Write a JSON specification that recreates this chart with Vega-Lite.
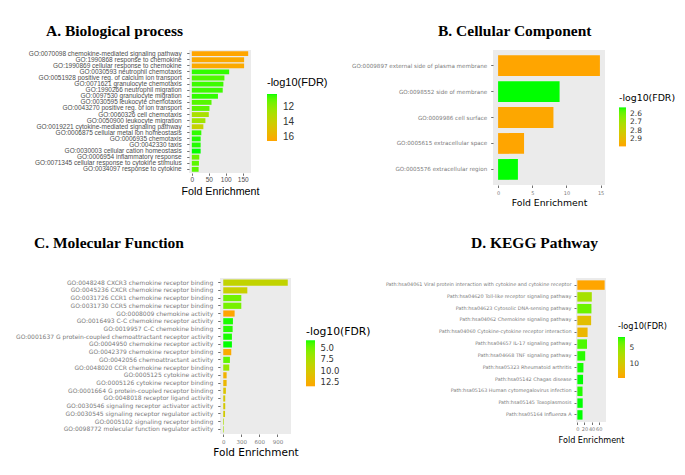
{
  "$schema": "https://vega.github.io/schema/vega-lite/v6.json",
  "background": "white",
  "padding": {"left": 15, "top": 23, "right": 0, "bottom": 0},
  "config": {"view": {"fill": "#ebebeb", "stroke": null}},
  "datasets": {
    "A": [
      {"term": "GO:0070098 chemokine-mediated signaling pathway", "fold": 166, "log10FDR": -16.5},
      {"term": "GO:1990868 response to chemokine", "fold": 154, "log10FDR": -16.3},
      {"term": "GO:1990869 cellular response to chemokine", "fold": 154, "log10FDR": -16.3},
      {"term": "GO:0030593 neutrophil chemotaxis", "fold": 110, "log10FDR": -10.5},
      {"term": "GO:0051928 positive reg. of calcium ion transport", "fold": 96, "log10FDR": -10.8},
      {"term": "GO:0071621 granulocyte chemotaxis", "fold": 93, "log10FDR": -10.6},
      {"term": "GO:1990266 neutrophil migration", "fold": 91, "log10FDR": -10.6},
      {"term": "GO:0097530 granulocyte migration", "fold": 77, "log10FDR": -10.5},
      {"term": "GO:0030595 leukocyte chemotaxis", "fold": 58, "log10FDR": -10.9},
      {"term": "GO:0043270 positive reg. of ion transport", "fold": 52, "log10FDR": -11.0},
      {"term": "GO:0060326 cell chemotaxis", "fold": 50, "log10FDR": -12.8},
      {"term": "GO:0050900 leukocyte migration", "fold": 40, "log10FDR": -12.5},
      {"term": "GO:0019221 cytokine-mediated signaling pathway", "fold": 34, "log10FDR": -13.8},
      {"term": "GO:0006875 cellular metal ion homeostasis", "fold": 28, "log10FDR": -10.5},
      {"term": "GO:0006935 chemotaxis", "fold": 26, "log10FDR": -10.4},
      {"term": "GO:0042330 taxis", "fold": 26, "log10FDR": -10.4},
      {"term": "GO:0030003 cellular cation homeostasis", "fold": 26, "log10FDR": -10.3},
      {"term": "GO:0006954 inflammatory response", "fold": 22, "log10FDR": -11.2},
      {"term": "GO:0071345 cellular response to cytokine stimulus", "fold": 21, "log10FDR": -11.0},
      {"term": "GO:0034097 response to cytokine", "fold": 20, "log10FDR": -11.0}
    ],
    "B": [
      {"term": "GO:0009897 external side of plasma membrane", "fold": 14.9, "log10FDR": -2.99},
      {"term": "GO:0098552 side of membrane", "fold": 9.0, "log10FDR": -2.52},
      {"term": "GO:0009986 cell surface", "fold": 8.1, "log10FDR": -2.98},
      {"term": "GO:0005615 extracellular space", "fold": 3.8, "log10FDR": -2.99},
      {"term": "GO:0005576 extracellular region", "fold": 2.9, "log10FDR": -2.52}
    ],
    "C": [
      {"term": "GO:0048248 CXCR3 chemokine receptor binding", "fold": 1072, "log10FDR": -8.8},
      {"term": "GO:0045236 CXCR chemokine receptor binding", "fold": 400, "log10FDR": -9.2},
      {"term": "GO:0031726 CCR1 chemokine receptor binding", "fold": 300, "log10FDR": -5.0},
      {"term": "GO:0031730 CCR5 chemokine receptor binding", "fold": 300, "log10FDR": -5.2},
      {"term": "GO:0008009 chemokine activity", "fold": 189, "log10FDR": -13.4},
      {"term": "GO:0016493 C-C chemokine receptor activity", "fold": 161, "log10FDR": -3.4},
      {"term": "GO:0019957 C-C chemokine binding", "fold": 156, "log10FDR": -3.5},
      {"term": "GO:0001637 G protein-coupled chemoattractant receptor activity", "fold": 144, "log10FDR": -3.4},
      {"term": "GO:0004950 chemokine receptor activity", "fold": 144, "log10FDR": -3.3},
      {"term": "GO:0042379 chemokine receptor binding", "fold": 133, "log10FDR": -13.0},
      {"term": "GO:0042056 chemoattractant activity", "fold": 111, "log10FDR": -4.5},
      {"term": "GO:0048020 CCR chemokine receptor binding", "fold": 100, "log10FDR": -6.5},
      {"term": "GO:0005125 cytokine activity", "fold": 56, "log10FDR": -12.2},
      {"term": "GO:0005126 cytokine receptor binding", "fold": 56, "log10FDR": -11.8},
      {"term": "GO:0001664 G protein-coupled receptor binding", "fold": 44, "log10FDR": -10.5},
      {"term": "GO:0048018 receptor ligand activity", "fold": 33, "log10FDR": -10.0},
      {"term": "GO:0030546 signaling receptor activator activity", "fold": 33, "log10FDR": -10.0},
      {"term": "GO:0030545 signaling receptor regulator activity", "fold": 30, "log10FDR": -9.8},
      {"term": "GO:0005102 signaling receptor binding", "fold": 11, "log10FDR": -7.5},
      {"term": "GO:0098772 molecular function regulator activity", "fold": 10, "log10FDR": -7.0}
    ],
    "D": [
      {"term": "Path:hsa04061 Viral protein interaction with cytokine and cytokine receptor", "fold": 76.5, "log10FDR": -14.5},
      {"term": "Path:hsa04620 Toll-like receptor signaling pathway", "fold": 40.5, "log10FDR": -6.5},
      {"term": "Path:hsa04623 Cytosolic DNA-sensing pathway", "fold": 39.5, "log10FDR": -3.5},
      {"term": "Path:hsa04062 Chemokine signaling pathway", "fold": 38.6, "log10FDR": -11.5},
      {"term": "Path:hsa04060 Cytokine-cytokine receptor interaction", "fold": 28.7, "log10FDR": -12.5},
      {"term": "Path:hsa04657 IL-17 signaling pathway", "fold": 27, "log10FDR": -2.5},
      {"term": "Path:hsa04668 TNF signaling pathway", "fold": 22, "log10FDR": -1.8},
      {"term": "Path:hsa05323 Rheumatoid arthritis", "fold": 17, "log10FDR": -1.6},
      {"term": "Path:hsa05142 Chagas disease", "fold": 16, "log10FDR": -1.5},
      {"term": "Path:hsa05163 Human cytomegalovirus infection", "fold": 14.5, "log10FDR": -1.7},
      {"term": "Path:hsa05145 Toxoplasmosis", "fold": 15, "log10FDR": -1.5},
      {"term": "Path:hsa05164 Influenza A", "fold": 14.5, "log10FDR": -1.5}
    ]
  },
  "columns": 1,
  "spacing": 27,
  "bounds": "full",
  "resolve": {"scale": {"color": "independent"}, "legend": {"color": "independent"}},
  "concat": [
    {
      "hconcat": [
        {
          "data": {"name": "A"},
          "width": 62,
          "height": 123,
          "title": {"text": "A. Biological process", "anchor": "start", "frame": "group", "dx": -143, "offset": -1, "baseline": "alphabetic", "font": "Liberation Serif", "fontSize": 15.5, "fontWeight": "bold", "color": "black"},
          "mark": {"type": "bar"},
          "encoding": {
            "y": {"field": "term", "type": "nominal", "sort": null, "scale": {"paddingInner": 0.2, "paddingOuter": 0.2},
              "axis": {"title": null, "labelFont": "Liberation Sans", "labelFontSize": 6.5, "labelColor": "#4d4d4d", "labelLimit": 400, "labelPadding": 5.5, "tickSize": 2.3, "tickColor": "#333333", "tickWidth": 0.7, "domain": false, "grid": false}},
            "x": {"field": "fold", "type": "quantitative", "scale": {"domain": [-8.3, 174.3], "nice": false, "zero": false},
              "axis": {"values": [0, 50, 100, 150], "title": "Fold Enrichment", "titleFont": "Liberation Sans", "titleFontSize": 10.7, "titleFontWeight": "normal", "titleColor": "black", "titleBaseline": "alphabetic", "titleY": 21.5, "labelFont": "Liberation Sans", "labelFontSize": 6.5, "labelColor": "#4d4d4d", "labelPadding": 1, "tickSize": 2.3, "tickColor": "#333333", "tickWidth": 0.7, "domain": false, "grid": false}},
            "x2": {"datum": 0},
            "color": {"field": "log10FDR", "type": "quantitative",
              "scale": {"domain": [-16.5, -10.3], "range": ["#ffa500", "#00ff00"], "interpolate": "lab"},
              "legend": {"title": "-log10(FDR)", "orient": "none", "direction": "vertical", "legendX": 78, "legendY": 27, "values": [-16, -14, -12], "labelExpr": "format(-datum.value, 'd')", "labelOverlap": false, "gradientLength": 47, "gradientThickness": 10, "gradientStrokeWidth": 0, "titleFont": "Liberation Sans", "titleFontSize": 11, "titleFontWeight": "normal", "titleColor": "black", "titlePadding": 6, "labelFont": "Liberation Sans", "labelFontSize": 10, "labelColor": "#333333", "labelOffset": 6}}
          }
        },
        {
          "data": {"name": "B"},
          "width": 112,
          "height": 135,
          "title": {"text": "B. Cellular Component", "anchor": "start", "frame": "group", "dx": -55, "offset": -1, "baseline": "alphabetic", "font": "Liberation Serif", "fontSize": 15.5, "fontWeight": "bold", "color": "black"},
          "mark": {"type": "bar"},
          "encoding": {
            "y": {"field": "term", "type": "nominal", "sort": null, "scale": {"paddingInner": 0.2, "paddingOuter": 0.2},
              "axis": {"title": null, "labelFont": "DejaVu Sans", "labelFontSize": 5.6, "labelColor": "#7a7a7a", "labelLimit": 400, "labelPadding": 4, "tickSize": 2.3, "tickColor": "#333333", "tickWidth": 0.7, "domain": false, "grid": false}},
            "x": {"field": "fold", "type": "quantitative", "scale": {"domain": [-0.745, 15.645], "nice": false, "zero": false},
              "axis": {"values": [0, 5, 10, 15], "title": "Fold Enrichment", "titleFont": "DejaVu Sans", "titleFontSize": 9.3, "titleFontWeight": "normal", "titleColor": "black", "titleBaseline": "alphabetic", "titleY": 20, "labelFont": "DejaVu Sans", "labelFontSize": 5, "labelColor": "#7a7a7a", "labelPadding": 3, "tickSize": 2.5, "tickColor": "#333333", "tickWidth": 0.7, "domain": false, "grid": false}},
            "x2": {"datum": 0},
            "color": {"field": "log10FDR", "type": "quantitative",
              "scale": {"domain": [-2.99, -2.52], "range": ["#ffa500", "#00ff00"], "interpolate": "lab"},
              "legend": {"title": "-log10(FDR)", "orient": "none", "direction": "vertical", "legendX": 126, "legendY": 44, "values": [-2.9, -2.8, -2.7, -2.6], "labelExpr": "format(-datum.value, '.1f')", "labelOverlap": false, "gradientLength": 39, "gradientThickness": 7, "gradientStrokeWidth": 0, "titleFont": "DejaVu Sans", "titleFontSize": 9.4, "titleFontWeight": "normal", "titleColor": "black", "titlePadding": 4, "labelFont": "DejaVu Sans", "labelFontSize": 7.5, "labelColor": "#333333", "labelOffset": 4}}
          }
        }
      ],
      "spacing": 242,
      "bounds": "flush",
      "resolve": {"scale": {"color": "independent"}, "legend": {"color": "independent"}}
    },
    {
      "hconcat": [
        {
          "data": {"values": [{}]},
          "width": 1,
          "height": 1,
          "view": {"fill": null, "stroke": null},
          "mark": {"type": "point", "opacity": 0},
          "encoding": {}
        },
        {
          "hconcat": [
            {
              "data": {"name": "C"},
              "width": 71,
              "height": 156,
              "title": {"text": "C. Molecular Function", "anchor": "start", "frame": "group", "dx": -186, "offset": 15, "baseline": "alphabetic", "font": "Liberation Serif", "fontSize": 15.5, "fontWeight": "bold", "color": "black"},
              "mark": {"type": "bar"},
              "encoding": {
                "y": {"field": "term", "type": "nominal", "sort": null, "scale": {"paddingInner": 0.2, "paddingOuter": 0.2},
                  "axis": {"title": null, "labelFont": "DejaVu Sans", "labelFontSize": 6, "labelColor": "#7a7a7a", "labelLimit": 400, "labelPadding": 5, "tickSize": 2.3, "tickColor": "#333333", "tickWidth": 0.7, "domain": false, "grid": false}},
                "x": {"field": "fold", "type": "quantitative", "scale": {"domain": [-54, 1126], "nice": false, "zero": false},
                  "axis": {"values": [0, 300, 600, 900], "title": "Fold Enrichment", "titleFont": "DejaVu Sans", "titleFontSize": 10.5, "titleFontWeight": "normal", "titleColor": "black", "titleBaseline": "alphabetic", "titleY": 21, "labelFont": "DejaVu Sans", "labelFontSize": 5.5, "labelColor": "#7a7a7a", "labelPadding": 2.5, "tickSize": 2.5, "tickColor": "#333333", "tickWidth": 0.7, "domain": false, "grid": false}},
                "x2": {"datum": 0},
                "color": {"field": "log10FDR", "type": "quantitative",
                  "scale": {"domain": [-13.4, -3.3], "range": ["#ffa500", "#00ff00"], "interpolate": "lab"},
                  "legend": {"title": "-log10(FDR)", "orient": "none", "direction": "vertical", "legendX": 86, "legendY": 48, "values": [-12.5, -10, -7.5, -5], "labelExpr": "format(-datum.value, '.1f')", "labelOverlap": false, "gradientLength": 46, "gradientThickness": 9, "gradientStrokeWidth": 0, "titleFont": "DejaVu Sans", "titleFontSize": 10.8, "titleFontWeight": "normal", "titleColor": "black", "titlePadding": 3.5, "labelFont": "DejaVu Sans", "labelFontSize": 8.5, "labelColor": "#333333", "labelOffset": 5.5}}
              }
            },
            {
              "data": {"name": "D"},
              "width": 30,
              "height": 144,
              "title": {"text": "D. KEGG Pathway", "anchor": "start", "frame": "group", "dx": -105, "offset": 15, "baseline": "alphabetic", "font": "Liberation Serif", "fontSize": 15.5, "fontWeight": "bold", "color": "black"},
              "mark": {"type": "bar"},
              "encoding": {
                "y": {"field": "term", "type": "nominal", "sort": null, "scale": {"paddingInner": 0.2, "paddingOuter": 0.2},
                  "axis": {"title": null, "labelFont": "DejaVu Sans", "labelFontSize": 4.9, "labelColor": "#7a7a7a", "labelLimit": 400, "labelPadding": 3, "tickSize": 2, "tickColor": "#333333", "tickWidth": 0.7, "domain": false, "grid": false}},
                "x": {"field": "fold", "type": "quantitative", "scale": {"domain": [-3.8, 80.3], "nice": false, "zero": false},
                  "axis": {"values": [0, 20, 40, 60], "title": "Fold Enrichment", "titleFont": "DejaVu Sans", "titleFontSize": 8.1, "titleFontWeight": "normal", "titleColor": "black", "titleBaseline": "alphabetic", "titleY": 20.7, "labelFont": "DejaVu Sans", "labelFontSize": 5, "labelColor": "#7a7a7a", "labelPadding": 2, "tickSize": 2.5, "tickColor": "#333333", "tickWidth": 0.7, "domain": false, "grid": false}},
                "x2": {"datum": 0},
                "color": {"field": "log10FDR", "type": "quantitative",
                  "scale": {"domain": [-14.5, -1.5], "range": ["#ffa500", "#00ff00"], "interpolate": "lab"},
                  "legend": {"title": "-log10(FDR)", "orient": "none", "direction": "vertical", "legendX": 42, "legendY": 44.5, "values": [-10, -5], "labelExpr": "format(-datum.value, 'd')", "labelOverlap": false, "gradientLength": 41, "gradientThickness": 7, "gradientStrokeWidth": 0, "titleFont": "DejaVu Sans", "titleFontSize": 8.2, "titleFontWeight": "normal", "titleColor": "black", "titlePadding": 6.3, "labelFont": "DejaVu Sans", "labelFontSize": 7.5, "labelColor": "#333333", "labelOffset": 4.5}}
              }
            }
          ],
          "spacing": 285,
          "bounds": "flush",
          "resolve": {"scale": {"color": "independent"}, "legend": {"color": "independent"}}
        }
      ],
      "spacing": 30,
      "bounds": "flush",
      "resolve": {"scale": {"color": "independent"}, "legend": {"color": "independent"}}
    }
  ]
}
